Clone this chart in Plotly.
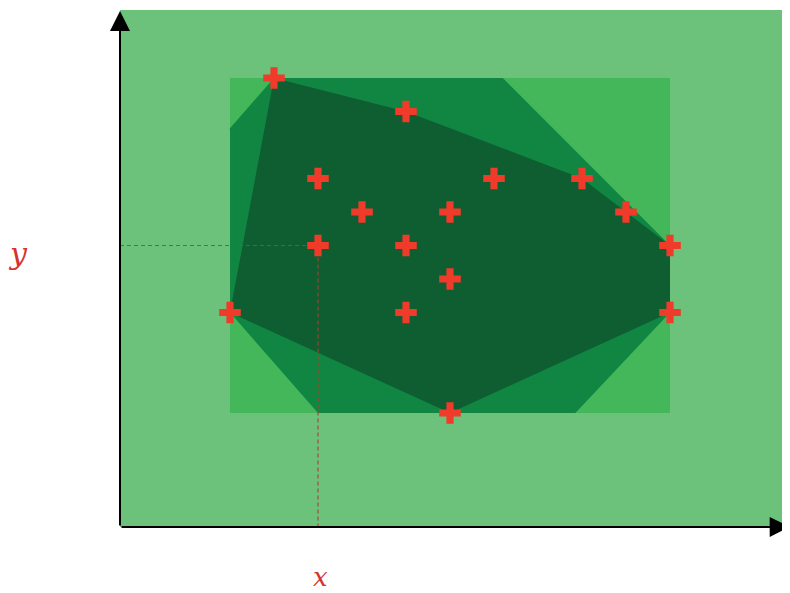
import plotly.graph_objects as go

# Data points (grid units)
points_x = [1, 4, 2, 6, 8, 3, 5, 9, 2, 4, 10, 5, 0, 4, 10, 5]
points_y = [10, 9, 7, 7, 7, 6, 6, 6, 5, 5, 5, 4, 3, 3, 3, 0]

# Octagonal bound
oct_x = [1, 6.2, 10, 10, 7.85, 2.0, 0, 0]
oct_y = [10, 10, 5, 3, 0, 0, 3, 8.5]

# Outer frame / axes extent
frame_x = [-2.5, 12.8]
frame_y = [-3.4, 12.03]

# Highlighted point for projections
sel_x, sel_y = 2, 5


def convex_hull(xs, ys):
    pts = sorted(set(zip(xs, ys)))

    def cross(o, a, b):
        return (a[0] - o[0]) * (b[1] - o[1]) - (a[1] - o[1]) * (b[0] - o[0])

    lower, upper = [], []
    for p in pts:
        while len(lower) >= 2 and cross(lower[-2], lower[-1], p) <= 0:
            lower.pop()
        lower.append(p)
    for p in reversed(pts):
        while len(upper) >= 2 and cross(upper[-2], upper[-1], p) <= 0:
            upper.pop()
        upper.append(p)
    h = lower[:-1] + upper[:-1]
    return [p[0] for p in h], [p[1] for p in h]


hull_x, hull_y = convex_hull(points_x, points_y)
bx0, bx1 = min(points_x), max(points_x)
by0, by1 = min(points_y), max(points_y)

fig = go.Figure()

def poly(xs, ys, color):
    fig.add_trace(go.Scatter(x=list(xs) + [xs[0]], y=list(ys) + [ys[0]],
                             mode="lines", fill="toself", fillcolor=color,
                             line=dict(width=0, color=color), hoverinfo="skip",
                             showlegend=False))

poly([frame_x[0], frame_x[1], frame_x[1], frame_x[0]],
     [frame_y[0], frame_y[0], frame_y[1], frame_y[1]], "rgb(108,193,123)")
poly([bx0, bx1, bx1, bx0], [by0, by0, by1, by1], "rgb(68,183,90)")
poly(oct_x, oct_y, "rgb(16,134,66)")
poly(hull_x, hull_y, "rgb(14,94,50)")

# dashed projection lines
fig.add_trace(go.Scatter(x=[frame_x[0], sel_x, sel_x], y=[sel_y, sel_y, frame_y[0]],
                         mode="lines", line=dict(color="rgba(180,60,45,0.9)", width=1.2, dash="4px,3px"),
                         hoverinfo="skip", showlegend=False))

# points
fig.add_trace(go.Scatter(x=points_x, y=points_y, mode="markers",
                         marker=dict(symbol="cross", size=18, color="rgb(240,58,42)",
                                     line=dict(width=0)),
                         hoverinfo="skip", showlegend=False))

# axes with arrows
fig.add_annotation(x=frame_x[0], y=12.0, ax=frame_x[0], ay=frame_y[0],
                   xref="x", yref="y", axref="x", ayref="y", showarrow=True,
                   arrowhead=2, arrowsize=2, arrowwidth=2, arrowcolor="black", text="")
fig.add_annotation(x=12.72, y=frame_y[0], ax=frame_x[0], ay=frame_y[0],
                   xref="x", yref="y", axref="x", ayref="y", showarrow=True,
                   arrowhead=2, arrowsize=2, arrowwidth=2, arrowcolor="black", text="")

# labels
fig.add_annotation(x=-4.82, y=4.75, text="<i>y</i>", showarrow=False,
                   font=dict(family="DejaVu Serif", size=30, color="rgb(215,50,50)"))
fig.add_annotation(x=sel_x + 0.05, y=-4.9, text="<i>x</i>", showarrow=False,
                   font=dict(family="DejaVu Serif", size=26, color="rgb(215,50,50)"))

fig.update_layout(width=774, height=585, margin=dict(l=0, r=0, t=0, b=0),
                  paper_bgcolor="white", plot_bgcolor="white",
                  xaxis=dict(range=[(8 - 230) / 44, (782 - 230) / 44], visible=False, fixedrange=True),
                  yaxis=dict(range=[(413 - 593) / 33.5, (413 - 8) / 33.5], visible=False, fixedrange=True))

fig.write_html("out.html")
